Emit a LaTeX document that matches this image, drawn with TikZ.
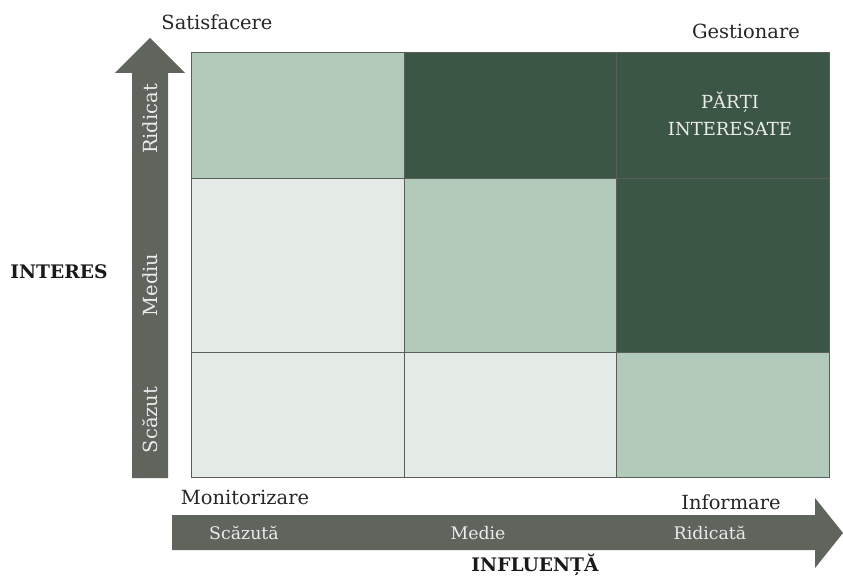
\documentclass[tikz,border=0pt]{standalone}
\usepackage{fontspec}
\setmainfont{DejaVu Serif}
\definecolor{lowcell}{HTML}{E4EAE6}
\definecolor{midcell}{HTML}{B2CABA}
\definecolor{highcell}{HTML}{3C5646}
\definecolor{axisgray}{HTML}{5F645D}
\definecolor{gridline}{HTML}{5A5E5A}
\tikzset{
  cornerlabel/.style={text=black!85, font=\fontsize{14.6}{17}\selectfont},
  axislabel/.style={text=black!90, font=\bfseries\fontsize{14}{17}\selectfont},
  levellabel/.style={text=white!92!black, font=\fontsize{13}{15}\selectfont},
}
\begin{document}
\begin{tikzpicture}[x=0.75pt,y=-0.75pt]
            \useasboundingbox (0,0) rectangle (843,577);

            % Vertical arrow (interest)
            \fill[axisgray] (132,478) -- (132,73) -- (115,73) -- (150,38) -- (185,73) -- (168,73) -- (168,478) -- cycle;
            \node[levellabel, rotate=90, font=\fontsize{14.6}{17}\selectfont] (rid) at (150,119) {Ridicat};
            \node[levellabel, rotate=90, font=\fontsize{14.6}{17}\selectfont] (med) at (150,285) {Mediu};
            \node[levellabel, rotate=90, font=\fontsize{14.6}{17}\selectfont] (scz) at (150,420) {Scăzut};

            % Horizontal arrow (influence)
            \fill[axisgray] (172,515) -- (815,515) -- (815,498) -- (843,533) -- (815,568) -- (815,550) -- (172,550) -- cycle;
            \node[levellabel] (lowinf) at (244,533) {Scăzută};
            \node[levellabel] (midinf) at (478,533) {Medie};
            \node[levellabel] (highinf) at (710,533) {Ridicată};

            % Bottom row
            \fill[lowcell] (191,352) rectangle (404,477);
            \fill[lowcell] (404,352) rectangle (616,477);
            \fill[midcell] (616,352) rectangle (829,477);
            % Middle row
            \fill[lowcell] (191,178) rectangle (404,352);
            \fill[midcell] (404,178) rectangle (616,352);
            \fill[highcell] (616,178) rectangle (829,352);
            % Top row
            \fill[midcell] (191,52) rectangle (404,178);
            \fill[highcell] (404,52) rectangle (616,178);
            \fill[highcell] (616,52) rectangle (829,178);

            % Grid lines
            \draw[gridline, line width=0.7pt] (191,52) rectangle (829,477);
            \draw[gridline, line width=0.7pt] (404,52) -- (404,477);
            \draw[gridline, line width=0.7pt] (616,52) -- (616,477);
            \draw[gridline, line width=0.7pt] (191,178) -- (829,178);
            \draw[gridline, line width=0.7pt] (191,352) -- (829,352);

            \node[levellabel, align=center, font=\fontsize{13.5}{20}\selectfont] (parti) at (730,114) {PĂRȚI\\INTERESATE};

            % Corner labels
            \node[cornerlabel] (satisf) at (217,22) {Satisfacere};
            \node[cornerlabel] (gest) at (746,31) {Gestionare};
            \node[cornerlabel] (monit) at (245,497) {Monitorizare};
            \node[cornerlabel] (inform) at (731,502) {Informare};

            % Axis titles
            \node[axislabel] (interes) at (59,272) {INTERES};
            \node[axislabel] (influenta) at (535,565) {INFLUENȚĂ};

        \end{tikzpicture}
\end{document}
